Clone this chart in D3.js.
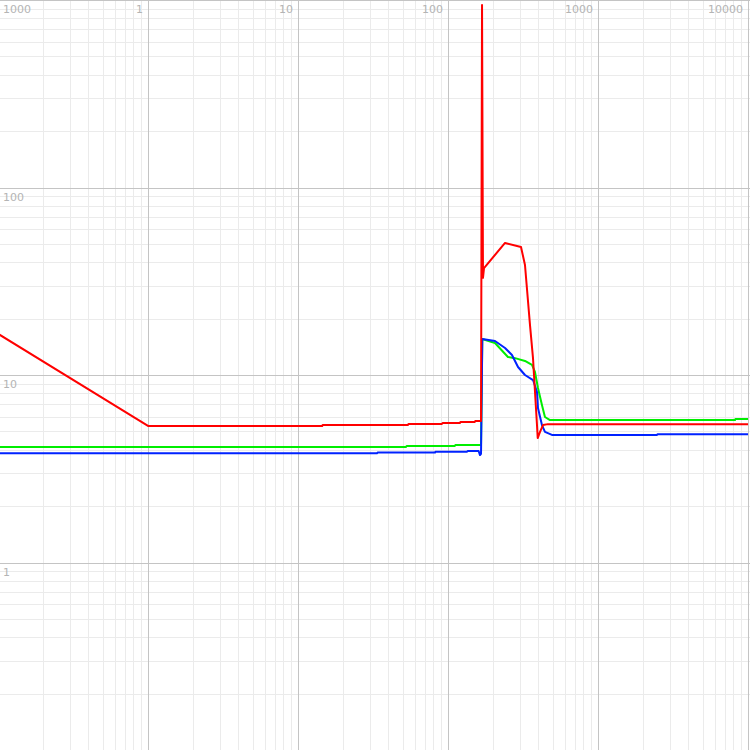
<!DOCTYPE html>
<html><head><meta charset="utf-8">
<script src="https://cdn.jsdelivr.net/npm/d3@7"></script>
<style>html,body{margin:0;padding:0;background:#fff;overflow:hidden}</style>
</head><body>
<script>
const xTickValues = [1, 10, 100, 1000, 10000];
const xTickLabels = ["1", "10", "100", "1000", "10000"];
const yTickValues = [1000, 100, 10, 1];
const yTickLabels = ["1000", "100", "10", "1"];

const redSeries = [[0.1,16.6],[1,5.35],[14.5,5.35],[14.6,5.41],[54,5.41],[54.5,5.48],[91,5.48],[92,5.55],[120,5.55],[121,5.62],[151,5.62],[152,5.68],[166,5.68],[168.6,940],[171.1,33],[173.8,37.2],[240,50.6],[306.7,48.2],[326,38.6],[352,18.5],[368.7,12.3],[380.2,8.12],[392,5.41],[396.3,4.61],[410.6,4.97],[430,5.41],[464,5.47],[10000,5.47]];
const greenSeries = [[0.1,4.13],[52.5,4.13],[53,4.18],[111,4.18],[112,4.23],[166,4.23],[169.3,15.56],[205.7,14.81],[251,12.47],[280,12.3],[326,11.88],[363,11.31],[380,10.38],[398,8.52],[423,6.92],[443,5.97],[478.6,5.75],[8190,5.75],[8250,5.83],[10000,5.83]];
const blueSeries = [[0.1,3.82],[33.6,3.82],[34,3.86],[82,3.86],[82.5,3.90],[134,3.90],[135,3.93],[160,3.93],[163.4,3.74],[166,3.8],[169.3,15.56],[205.7,15.18],[240,13.93],[267,12.79],[293,11.03],[326,10],[369,9.40],[392,8.12],[398,6.67],[423,5.41],[443,4.97],[493,4.79],[2474,4.79],[2490,4.83],[10000,4.83]];

const W = 750, H = 750;
const svg = d3.select("body").append("svg").attr("width", W).attr("height", H);
const x = d3.scaleLog().domain([0.1, 10000]).range([-2, 748]);
const y = d3.scaleLog().domain([0.1, 1000]).range([750, 0]);

// minor grid
const minorX = [], minorY = [];
for (let e = -1; e <= 4; e++) for (let m = 2; m <= 9; m++) minorX.push(m * Math.pow(10, e));
for (let e = -1; e <= 3; e++) for (let m = 2; m <= 9; m++) minorY.push(m * Math.pow(10, e));
const g = svg.append("g");
g.selectAll(".mx").data(minorX).enter().append("line")
  .attr("x1", d => Math.round(x(d)) + 0.5).attr("x2", d => Math.round(x(d)) + 0.5)
  .attr("y1", 0).attr("y2", H).attr("stroke", "#ebebeb").attr("stroke-width", 1);
g.selectAll(".my").data(minorY).enter().append("line")
  .attr("y1", d => Math.round(y(d)) + 0.5).attr("y2", d => Math.round(y(d)) + 0.5)
  .attr("x1", 0).attr("x2", W).attr("stroke", "#ebebeb").attr("stroke-width", 1);
g.selectAll(".Mx").data(xTickValues).enter().append("line")
  .attr("x1", d => Math.round(x(d)) + 0.5).attr("x2", d => Math.round(x(d)) + 0.5)
  .attr("y1", 0).attr("y2", H).attr("stroke", "#c4c4c4").attr("stroke-width", 1);
g.selectAll(".My").data(yTickValues).enter().append("line")
  .attr("y1", d => Math.round(y(d)) + 0.5).attr("y2", d => Math.round(y(d)) + 0.5)
  .attr("x1", 0).attr("x2", W).attr("stroke", "#c4c4c4").attr("stroke-width", 1);

// labels
svg.selectAll(".xl").data(xTickValues).enter().append("text")
  .attr("x", d => x(d) - 5).attr("y", 13).attr("text-anchor", "end")
  .attr("font-family", "DejaVu Sans").attr("font-size", 11).attr("fill", "#b4b4b4")
  .text((d, i) => xTickLabels[i]);
svg.selectAll(".yl").data(yTickValues).enter().append("text")
  .attr("x", 3).attr("y", d => y(d) + 13)
  .attr("font-family", "DejaVu Sans").attr("font-size", 11).attr("fill", "#b4b4b4")
  .text((d, i) => yTickLabels[i]);

const line = d3.line().x(d => x(d[0])).y(d => y(d[1]));
const series = [[greenSeries, "#00ee00"], [blueSeries, "#0022ff"], [redSeries, "#ff0000"]];
svg.selectAll(".s").data(series).enter().append("path")
  .attr("d", d => line(d[0])).attr("fill", "none")
  .attr("stroke", d => d[1]).attr("stroke-width", 2).attr("stroke-linejoin", "round");
</script>
</body></html>
